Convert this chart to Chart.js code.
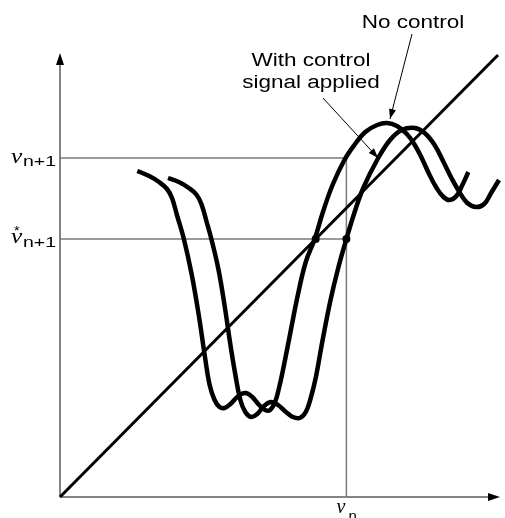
<!DOCTYPE html>
<html>
<head>
<meta charset="utf-8">
<script src="https://cdn.jsdelivr.net/npm/chart.js@4/dist/chart.umd.min.js"></script>
<style>
  html, body { margin: 0; padding: 0; background: #fff; }
  #wrap { width: 505px; height: 518px; }
</style>
</head>
<body>
<div id="wrap"><canvas id="c" width="505" height="518"></canvas></div>
<script>
// Return map v(n+1) = f(v(n)) without control
const noControlX = [78, 90, 100, 108, 113, 118, 125, 133, 140, 146, 151, 156, 161, 166, 172, 180, 187, 194, 201, 207, 212, 217, 221, 225, 232, 240, 248, 257, 265, 275, 287, 297, 308, 320, 330, 340, 350, 358, 365, 372, 380, 387, 393, 400, 406, 412];
const noControlY = [326, 321, 315, 308, 299, 282, 258, 222, 182, 142, 112, 97, 90, 89, 93, 101, 104, 100, 92, 87, 87, 95, 109, 127, 162, 202, 235, 258, 284, 312, 337, 352, 365, 372, 374, 371, 363, 352, 339, 324, 309, 300, 297, 301, 312, 325];

// Return map with the control signal applied
const controlX = [109, 120, 130, 138, 143, 148, 153, 160, 166, 172, 177, 182, 187, 193, 199, 206, 213, 220, 228, 235, 242, 248, 253, 258, 265, 273, 281, 289, 297, 306, 320, 333, 345, 358, 368, 378, 387, 395, 403, 411, 420, 428, 435, 443];
const controlY = [319, 315, 309, 302, 292, 275, 257, 227, 192, 152, 122, 97, 85, 80, 83, 91, 95, 92, 85, 80, 79, 85, 99, 119, 157, 197, 230, 258, 284, 309, 337, 357, 367, 369, 364, 352, 335, 319, 305, 294, 290, 293, 304, 317];

// Identity line v(n+1) = v(n)
const diagonalX = [0, 442];
const diagonalY = [0, 442];

// Marked levels
const vNext = 339;      // v(n+1)
const vStar = 258;      // v*(n+1)
const vN = 289;         // v(n)
const fixedPointX = [258, 289];
const fixedPointY = [vStar, vStar];

const axisMaxX = 440;
const axisMaxY = 438;

const pts = (xs, ys) => xs.map((x, i) => ({ x: x, y: ys[i] }));

const GUIDE = '#7a7a7a';
const AXIS = '#5a5a5a';

// Labels, arrows and axis arrowheads drawn on top of the plot
const decorations = {
  id: 'decorations',
  afterDatasetsDraw(chart) {
    const ctx = chart.ctx;
    const xs = chart.scales.x, ys = chart.scales.y;
    const px = v => xs.getPixelForValue(v);
    const py = v => ys.getPixelForValue(v);

    function head(x1, y1, x2, y2, len, half, color) {
      const a = Math.atan2(y2 - y1, x2 - x1);
      ctx.save();
      ctx.fillStyle = color;
      ctx.beginPath();
      ctx.moveTo(x2, y2);
      ctx.lineTo(x2 - len * Math.cos(a) + half * Math.sin(a), y2 - len * Math.sin(a) - half * Math.cos(a));
      ctx.lineTo(x2 - len * Math.cos(a) - half * Math.sin(a), y2 - len * Math.sin(a) + half * Math.cos(a));
      ctx.closePath();
      ctx.fill();
      ctx.restore();
    }
    function pointer(x1, y1, x2, y2) {
      ctx.save();
      ctx.strokeStyle = '#000';
      ctx.lineWidth = 1;
      ctx.beginPath();
      ctx.moveTo(x1, y1);
      ctx.lineTo(x2, y2);
      ctx.stroke();
      ctx.restore();
      head(x1, y1, x2, y2, 10, 3.5, '#000');
    }
    function text(str, x, y, font, align, sx) {
      ctx.save();
      ctx.translate(x, y);
      ctx.scale(sx, 1);
      ctx.font = font;
      ctx.fillStyle = '#000';
      ctx.textAlign = align;
      ctx.textBaseline = 'alphabetic';
      ctx.fillText(str, 0, 0);
      ctx.restore();
    }

    // axis arrowheads
    head(px(0), py(0), px(0), py(axisMaxY + 6), 12, 4, '#000');
    head(px(0), py(0), px(axisMaxX + 4), py(0), 12, 4, '#000');

    // curve captions
    const SX = 1.25;
    const capFont = '18px "Liberation Sans", Arial, sans-serif';
    text('No control', 413, 28, capFont, 'center', SX);
    text('With control', 311, 66, capFont, 'center', SX);
    text('signal applied', 311, 88, capFont, 'center', SX);
    pointer(412, 34, px(333), py(378));
    pointer(323, 98, px(321), py(339));

    // axis labels
    const vFont = 'italic 22px "Liberation Serif", "Times New Roman", serif';
    const subFont = '15px "Liberation Sans", Arial, sans-serif';
    const yA = py(vNext), yB = py(vStar);
    text('v', 11, yA + 5, vFont, 'left', 1.15);
    text('n+1', 23, yA + 8, subFont, 'left', 1.3);
    text('v', 11, yB + 4, vFont, 'left', 1.15);
    text('*', 14, yB - 4, '13px "Liberation Sans", Arial, sans-serif', 'left', 1.1);
    text('n+1', 23, yB + 8, subFont, 'left', 1.3);
    const xA = px(vN);
    text('v', xA - 10, 513, 'italic 20px "Liberation Serif", serif', 'left', 1);
    text('n', xA + 2, 521, '15px "Liberation Sans", sans-serif', 'left', 1);
  }
};

new Chart(document.getElementById('c'), {
  type: 'line',
  data: {
    datasets: [
      { label: 'fixed points', data: pts(fixedPointX, fixedPointY), showLine: false,
        pointRadius: 4, pointBackgroundColor: '#000', pointBorderWidth: 0, order: 0 },
      { label: 'No control', data: pts(noControlX, noControlY), borderColor: '#000',
        borderWidth: 4.5, pointRadius: 0, tension: 0.4, order: 1 },
      { label: 'With control signal applied', data: pts(controlX, controlY), borderColor: '#000',
        borderWidth: 4.5, pointRadius: 0, tension: 0.4, order: 1 },
      { label: 'identity', data: pts(diagonalX, diagonalY), borderColor: '#000',
        borderWidth: 3, pointRadius: 0, order: 2 },
      { label: 'v(n+1) level', data: [{ x: 0, y: vNext }, { x: vN, y: vNext }, { x: vN, y: 0 }],
        borderColor: GUIDE, borderWidth: 1.5, pointRadius: 0, tension: 0, order: 3 },
      { label: 'v*(n+1) level', data: [{ x: 0, y: vStar }, { x: vN, y: vStar }],
        borderColor: GUIDE, borderWidth: 1.5, pointRadius: 0, order: 3 },
      { label: 'x axis', data: [{ x: 0, y: 0 }, { x: axisMaxX, y: 0 }],
        borderColor: AXIS, borderWidth: 1.5, pointRadius: 0, order: 4 },
      { label: 'y axis', data: [{ x: 0, y: 0 }, { x: 0, y: axisMaxY }],
        borderColor: AXIS, borderWidth: 1.5, pointRadius: 0, order: 4 }
    ]
  },
  options: {
    responsive: false,
    animation: false,
    clip: false,
    layout: { padding: { left: 60, right: 0, top: 50, bottom: 21 } },
    scales: {
      x: { type: 'linear', min: 0, max: 445, display: false },
      y: { type: 'linear', min: 0, max: 447, display: false }
    },
    plugins: { legend: { display: false }, tooltip: { enabled: false }, title: { display: false } }
  },
  plugins: [decorations]
});
</script>
</body>
</html>
